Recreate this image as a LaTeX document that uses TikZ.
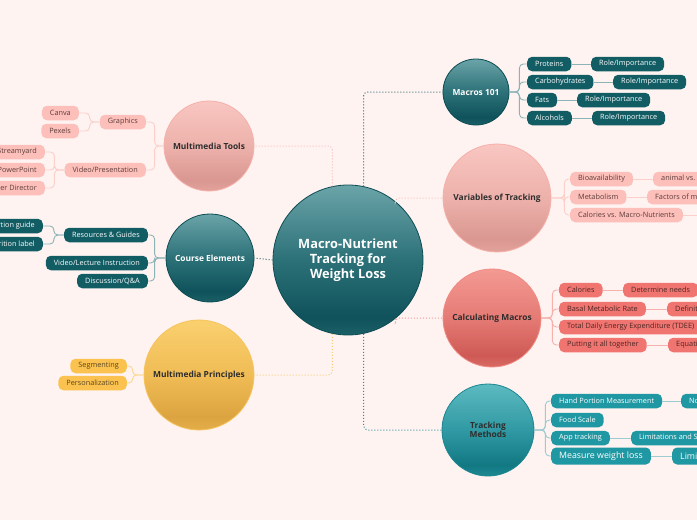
\documentclass[tikz,border=0pt]{standalone}
\usepackage{fontspec}
\setmainfont{Open Sans}
\definecolor{bg}{HTML}{FEF3F1}
% dark teal
\definecolor{DTt}{HTML}{6AA4A8}\definecolor{DTm}{HTML}{2C7178}\definecolor{DTd}{HTML}{0F525B}\definecolor{DTb}{HTML}{1B5F67}
\definecolor{DTbd}{HTML}{0E4C54}\definecolor{DTbox}{HTML}{125C64}\definecolor{DTline}{HTML}{8CB3B6}\definecolor{DTdot}{HTML}{2F6A70}
% pink
\definecolor{PKt}{HTML}{F9C6C1}\definecolor{PKm}{HTML}{EDB1AB}\definecolor{PKd}{HTML}{DA9791}\definecolor{PKb}{HTML}{E3A29C}
\definecolor{PKbd}{HTML}{F6B0A9}\definecolor{PKbox}{HTML}{FDBFB9}\definecolor{PKtext}{HTML}{5B3C3A}\definecolor{PKline}{HTML}{FBCFCA}\definecolor{PKdot}{HTML}{F8BDB7}
% salmon
\definecolor{SAt}{HTML}{F39A93}\definecolor{SAm}{HTML}{E57A74}\definecolor{SAd}{HTML}{CF5A55}\definecolor{SAb}{HTML}{D86A64}
\definecolor{SAbd}{HTML}{F28A83}\definecolor{SAbox}{HTML}{F07570}\definecolor{SAtext}{HTML}{4C2523}\definecolor{SAline}{HTML}{F6B1AD}\definecolor{SAdot}{HTML}{F29A94}
% teal
\definecolor{TEt}{HTML}{5DBAC1}\definecolor{TEm}{HTML}{3099A3}\definecolor{TEd}{HTML}{127983}\definecolor{TEb}{HTML}{1E8891}
\definecolor{TEbd}{HTML}{1A8690}\definecolor{TEbox}{HTML}{2098A3}\definecolor{TEline}{HTML}{9CCBD0}\definecolor{TEdot}{HTML}{2A8E98}
% yellow
\definecolor{YEt}{HTML}{FAD06F}\definecolor{YEm}{HTML}{F0BC55}\definecolor{YEd}{HTML}{DCA440}\definecolor{YEb}{HTML}{E3AE4B}
\definecolor{YEbd}{HTML}{F6C35C}\definecolor{YEbox}{HTML}{FBC24F}\definecolor{YEtext}{HTML}{5A4524}\definecolor{YEline}{HTML}{FBD88C}\definecolor{YEdot}{HTML}{F6CE76}
\definecolor{toptext}{HTML}{2E2E2E}
\pgfdeclareverticalshading{dtshade}{100bp}{color(0bp)=(DTb); color(25bp)=(DTb); color(31bp)=(DTd); color(50bp)=(DTm); color(75bp)=(DTt); color(100bp)=(DTt)}
\pgfdeclareverticalshading{pkshade}{100bp}{color(0bp)=(PKb); color(25bp)=(PKb); color(31bp)=(PKd); color(50bp)=(PKm); color(75bp)=(PKt); color(100bp)=(PKt)}
\pgfdeclareverticalshading{sashade}{100bp}{color(0bp)=(SAb); color(25bp)=(SAb); color(31bp)=(SAd); color(50bp)=(SAm); color(75bp)=(SAt); color(100bp)=(SAt)}
\pgfdeclareverticalshading{teshade}{100bp}{color(0bp)=(TEb); color(25bp)=(TEb); color(31bp)=(TEd); color(50bp)=(TEm); color(75bp)=(TEt); color(100bp)=(TEt)}
\pgfdeclareverticalshading{yeshade}{100bp}{color(0bp)=(YEb); color(25bp)=(YEb); color(31bp)=(YEd); color(50bp)=(YEm); color(75bp)=(YEt); color(100bp)=(YEt)}
\tikzset{
  ball/.style={circle, inner sep=0pt, align=center, line width=0.8pt, text=toptext,
    font=\bfseries\fontsize{8.4}{10}\selectfont},
  dtball/.style={ball, draw=DTbd, shading=dtshade, text=white},
  pkball/.style={ball, draw=PKbd, shading=pkshade},
  saball/.style={ball, draw=SAbd, shading=sashade},
  teball/.style={ball, draw=TEbd, shading=teshade},
  yeball/.style={ball, draw=YEbd, shading=yeshade},
  box/.style={rectangle, rounded corners=5pt, minimum height=14.5pt, inner xsep=8pt, inner ysep=0pt,
    font=\fontsize{7.3}{8.5}\selectfont},
  dtbox/.style={box, fill=DTbox, text=white},
  pkbox/.style={box, fill=PKbox, text=PKtext},
  sabox/.style={box, fill=SAbox, text=SAtext},
  tebox/.style={box, fill=TEbox, text=white},
  yebox/.style={box, fill=YEbox, text=YEtext},
  branch/.style={rounded corners=4pt, line width=0.9pt},
  mainlink/.style={dotted, line width=1pt, rounded corners=4pt},
}
\begin{document}
\begin{tikzpicture}[x=1pt, y=-1pt]
\useasboundingbox (0,0) rectangle (697,520);
\clip (0,0) rectangle (697,520);
\fill[bg] (0,0) rectangle (697,520);

\node[dtball, minimum size=150pt, font=\bfseries\fontsize{12.8}{15}\selectfont] (c) at (348,260) {Macro-Nutrient\\Tracking for\\ Weight Loss};
\node[dtball, minimum size=66pt] (m101) at (476,92) {Macros 101};
\node[pkball, minimum size=108pt] (vot) at (497,198) {Variables of Tracking};
\node[saball, minimum size=98pt] (calc) at (492,318) {Calculating Macros};
\node[teball, minimum size=92pt, font=\bfseries\fontsize{8.4}{9}\selectfont] (trk) at (488,430) {Tracking\\ Methods};
\node[pkball, minimum size=90pt] (mmt) at (209,146) {Multimedia Tools};
\node[dtball, minimum size=88pt] (ce) at (210,258) {Course Elements};
\node[yeball, minimum size=110pt] (mmp) at (199,375) {Multimedia Principles};

\draw[mainlink, DTdot] (c.78) |- (m101);
\draw[mainlink, PKdot] (c.51) |- (vot);
\draw[mainlink, SAdot] (c.-51) |- (calc);
\draw[mainlink, TEdot] (c.-78) |- (trk);
\draw[mainlink, PKdot] (c.102) |- (mmt);
\draw[mainlink, DTdot] (c.west) -- (ce.east);
\draw[mainlink, YEdot] (c.-102) |- (mmp);

% Macros 101
\node[dtbox, anchor=west] (pro) at (527,64) {Proteins};
\node[dtbox, anchor=west] (proR) at (591,64) {Role/Importance};
\node[dtbox, anchor=west] (carb) at (527,82) {Carbohydrates};
\node[dtbox, anchor=west] (carbR) at (613,82) {Role/Importance};
\node[dtbox, anchor=west] (fat) at (527,100) {Fats};
\node[dtbox, anchor=west] (fatR) at (577,100) {Role/Importance};
\node[dtbox, anchor=west] (alc) at (527,118) {Alcohols};
\node[dtbox, anchor=west] (alcR) at (592,118) {Role/Importance};
\foreach \n in {pro,carb,fat,alc}{
  \draw[branch, DTline] (m101.east) -- ++(10,0) |- (\n.west);
  \draw[branch, DTline] (\n.east) -- (\n R.west);
}

% Variables of Tracking
\node[pkbox, anchor=west] (bio) at (570,179) {Bioavailability};
\node[pkbox, anchor=west] (bioR) at (653,179) {animal vs. plant};
\node[pkbox, anchor=west] (met) at (570,197) {Metabolism};
\node[pkbox, anchor=west] (metR) at (647,197) {Factors of metabolism};
\node[pkbox, anchor=west] (cal) at (570,215) {Calories vs. Macro-Nutrients};
\coordinate (calR) at (710,215);
\foreach \n in {bio,met,cal}{
  \draw[branch, PKline] (vot.east) -- ++(13,0) |- (\n.west);
}
\draw[branch, PKline] (bio.east) -- (bioR.west);
\draw[branch, PKline] (met.east) -- (metR.west);
\draw[branch, PKline] (cal.east) -- (calR);

% Calculating Macros
\node[sabox, anchor=west] (cc) at (559,290) {Calories};
\node[sabox, anchor=west] (ccR) at (623,290) {Determine needs};
\node[sabox, anchor=west] (bmr) at (559,309) {Basal Metabolic Rate};
\node[sabox, anchor=west] (bmrR) at (667,309) {Definition};
\node[sabox, anchor=west] (tdee) at (559,327) {Total Daily Energy Expenditure (TDEE)};
\node[sabox, anchor=west] (put) at (559,345) {Putting it all together};
\node[sabox, anchor=west] (putR) at (668,345) {Equations};
\foreach \n in {cc,bmr,tdee,put}{
  \draw[branch, SAline] (calc.east) -- ++(11,0) |- (\n.west);
}
\draw[branch, SAline] (cc.east) -- (ccR.west);
\draw[branch, SAline] (bmr.east) -- (bmrR.west);
\draw[branch, SAline] (put.east) -- (putR.west);

% Tracking Methods
\node[tebox, anchor=west] (hand) at (551,401) {Hand Portion Measurement};
\node[tebox, anchor=west] (handR) at (681,401) {Notes};
\node[tebox, anchor=west] (scale) at (551,420) {Food Scale};
\node[tebox, anchor=west] (app) at (551,438) {App tracking};
\node[tebox, anchor=west] (appR) at (631,438) {Limitations and Strengths};
\node[tebox, anchor=west, minimum height=17pt, font=\fontsize{8.8}{10}\selectfont] (mwl) at (551,456) {Measure weight loss};
\node[tebox, anchor=west, minimum height=17pt, font=\fontsize{8.8}{10}\selectfont] (mwlR) at (672,456) {Limitations};
\foreach \n in {hand,scale,app,mwl}{
  \draw[branch, TEline] (trk.east) -- ++(11,0) |- (\n.west);
}
\draw[branch, TEline] (hand.east) -- (handR.west);
\draw[branch, TEline] (app.east) -- (appR.west);
\draw[branch, TEline] (mwl.east) -- (mwlR.west);

% Multimedia Tools
\node[pkbox, anchor=east] (graph) at (146,122) {Graphics};
\node[pkbox, anchor=east] (canva) at (79,113) {Canva};
\node[pkbox, anchor=east] (pexels) at (79,131) {Pexels};
\node[pkbox, anchor=east] (vid) at (146,170) {Video/Presentation};
\node[pkbox, anchor=east] (stream) at (45,152) {Streamyard};
\node[pkbox, anchor=east] (ppt) at (45,170) {PowerPoint};
\node[pkbox, anchor=east] (pdir) at (45,188) {Power Director};
\foreach \n in {graph,vid}{
  \draw[branch, PKline] (mmt.west) -- ++(-9,0) |- (\n.east);
}
\foreach \n in {canva,pexels}{
  \draw[branch, PKline] (graph.west) -- ++(-10,0) |- (\n.east);
}
\foreach \n in {stream,ppt,pdir}{
  \draw[branch, PKline] (vid.west) -- ++(-10,0) |- (\n.east);
}

% Course Elements
\node[dtbox, anchor=east] (res) at (148,235) {Resources \& Guides};
\node[dtbox, anchor=east] (pg) at (43,226) {Portion guide};
\node[dtbox, anchor=east] (nl) at (43,244) {Nutrition label};
\node[dtbox, anchor=east] (vli) at (148,263) {Video/Lecture Instruction};
\node[dtbox, anchor=east] (dqa) at (148,281) {Discussion/Q\&A};
\foreach \n in {res,vli,dqa}{
  \draw[branch, DTline] (ce.west) -- ++(-11,0) |- (\n.east);
}
\foreach \n in {pg,nl}{
  \draw[branch, DTline] (res.west) -- ++(-10,0) |- (\n.east);
}

% Multimedia Principles
\node[yebox, anchor=east] (seg) at (127,366) {Segmenting};
\node[yebox, anchor=east] (pers) at (127,383) {Personalization};
\foreach \n in {seg,pers}{
  \draw[branch, YEline] (mmp.west) -- ++(-11,0) |- (\n.east);
}
\end{tikzpicture}
\end{document}
